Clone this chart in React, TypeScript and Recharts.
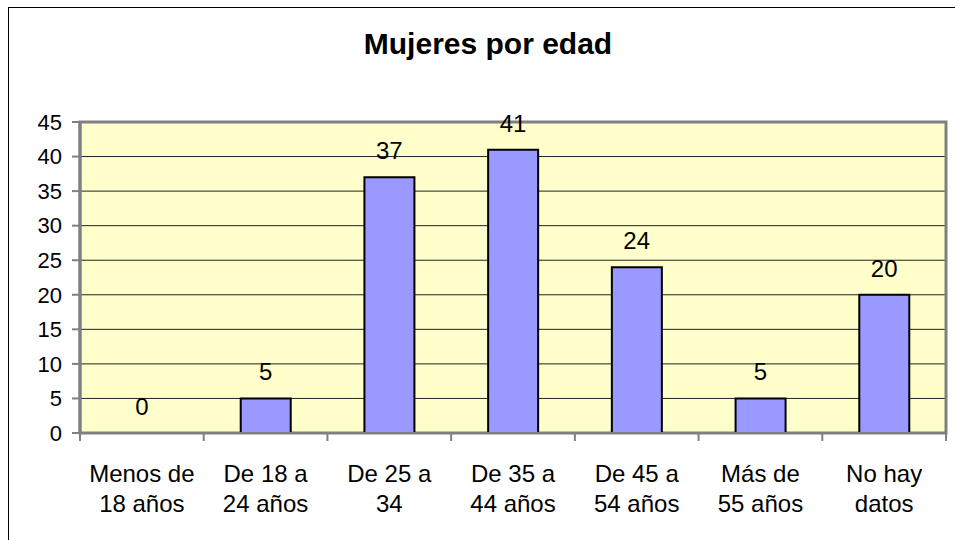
import React from 'react';
import { ComposedChart, Bar, Line, XAxis, YAxis, CartesianGrid, LabelList, ReferenceArea } from 'recharts';

const categories = [
  'Menos de\n18 años',
  'De 18 a\n24 años',
  'De 25 a\n34',
  'De 35 a\n44 años',
  'De 45 a\n54 años',
  'Más de\n55 años',
  'No hay\ndatos',
];
const mujeres = [0, 5, 37, 41, 24, 5, 20];
const yTicks = [0, 5, 10, 15, 20, 25, 30, 35, 40, 45];

const data = categories.map((name, i) => ({ name, value: mujeres[i] }));

const FONT = "'Liberation Sans', Arial, sans-serif";
const AXIS_GRAY = '#808080';

// two-line category label plus the boundary tick marks Excel draws between categories
const CategoryTick = (props: any) => {
  const { x, y, payload, index } = props;
  const half = payload && payload.offset ? payload.offset : 62;
  const lines = String(payload.value).split('\n');
  return (
    <g>
      <line x1={x - half} y1={y} x2={x - half} y2={y + 8} stroke={AXIS_GRAY} strokeWidth={2} />
      {index === categories.length - 1 && (
        <line x1={x + half} y1={y} x2={x + half} y2={y + 8} stroke={AXIS_GRAY} strokeWidth={2} />
      )}
      {lines.map((ln, i) => (
        <text key={i} x={x} y={y + 49 + i * 30} textAnchor="middle" fontSize={24} fontFamily={FONT} fill="#000">
          {ln}
        </text>
      ))}
    </g>
  );
};

export default function App() {
  return (
    <div
      style={{
        position: 'absolute',
        left: 8,
        top: 7,
        width: 960,
        height: 545,
        border: '1px solid #000',
        background: '#fff',
        fontFamily: FONT,
      }}
    >
      <div
        style={{
          position: 'absolute',
          left: 6,
          width: 946,
          top: 19,
          textAlign: 'center',
          fontSize: 30,
          fontWeight: 'bold',
          lineHeight: '34px',
        }}
      >
        Mujeres por edad
      </div>
      <ComposedChart
        width={946}
        height={532}
        data={data}
        margin={{ top: 114, right: 9, bottom: 0, left: 0 }}
        barCategoryGap={0}
      >
        <CartesianGrid vertical={false} stroke="#222" strokeWidth={1} fill="#FFFFCC" fillOpacity={1} />
        <ReferenceArea y1={0} y2={45} fill="none" stroke={AXIS_GRAY} strokeWidth={3} />
        <XAxis
          dataKey="name"
          interval={0}
          height={107}
          tickSize={0}
          tickMargin={0}
          tickLine={false}
          axisLine={{ stroke: AXIS_GRAY, strokeWidth: 2 }}
          tick={<CategoryTick />}
        />
        <YAxis
          width={71}
          domain={[0, 45]}
          ticks={yTicks}
          interval={0}
          tickSize={8}
          tickMargin={10}
          tickLine={{ stroke: AXIS_GRAY, strokeWidth: 2 }}
          axisLine={{ stroke: AXIS_GRAY, strokeWidth: 3 }}
          tick={{ fontSize: 22, fill: '#000', fontFamily: FONT }}
        />
        <Bar dataKey="value" fill="#9999FF" stroke="#000" strokeWidth={2} barSize={50} isAnimationActive={false} />
        {/* invisible series only to carry the value labels (incl. the 0) */}
        <Line
          dataKey="value"
          stroke="none"
          dot={false}
          activeDot={false}
          legendType="none"
          isAnimationActive={false}
        >
          <LabelList dataKey="value" position="top" offset={18} fontSize={24} fill="#000" fontFamily={FONT} />
        </Line>
      </ComposedChart>
    </div>
  );
}
